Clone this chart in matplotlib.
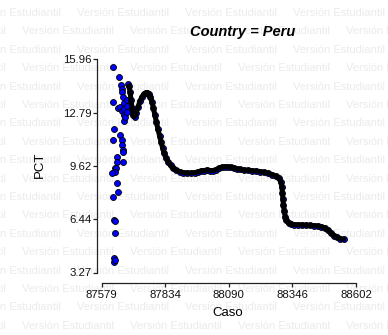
import matplotlib
matplotlib.use('Agg')
import matplotlib.pyplot as plt

plt.rcParams['font.family'] = ['Liberation Sans', 'DejaVu Sans']

# ---- data ----
scatter_caso = [87623, 87650, 87657, 87659, 87660, 87685, 87626, 87646, 87653, 87660,
                87666, 87667, 87668, 87669, 87670, 87673, 87680, 87681, 87682, 87627,
                87624, 87654, 87661, 87662, 87663, 87665, 87639, 87640, 87664, 87633,
                87638, 87634, 87622, 87642, 87643, 87625, 87628, 87631, 87632, 87629,
                87630, 87631]
scatter_pct = [15.48, 14.92, 14.43, 14.22, 14.03, 14.49, 13.44, 13.04, 13.14, 12.88,
               13.72, 13.36, 13.00, 12.64, 12.29, 12.53, 13.54, 13.18, 12.82, 11.79,
               11.16, 11.45, 11.16, 10.86, 10.56, 10.44, 10.16, 9.87, 9.87, 9.47,
               9.49, 9.25, 9.17, 8.58, 8.08, 7.78, 6.39, 6.34, 5.60, 4.13,
               3.89, 4.01]

curve_caso = [87689, 87693, 87697, 87701, 87705, 87711, 87717, 87725, 87733, 87741,
              87749, 87757, 87763, 87769, 87775, 87781, 87787, 87793, 87799, 87805,
              87812, 87818, 87824, 87830, 87838, 87846, 87856, 87866, 87878, 87892,
              87906, 87922, 87938, 87954, 87966, 87978, 87991, 88003, 88015, 88027,
              88039, 88051, 88063, 88075, 88087, 88099, 88111, 88123, 88135, 88151,
              88167, 88184, 88200, 88216, 88232, 88248, 88264, 88280, 88292, 88300,
              88304, 88306, 88308, 88310, 88314, 88317, 88322, 88331, 88341, 88353,
              88369, 88385, 88401, 88417, 88433, 88449, 88463, 88477, 88489, 88501,
              88513, 88525, 88538, 88552]
curve_pct = [14.37, 14.01, 13.54, 13.06, 12.64, 12.53, 12.76, 13.12, 13.48, 13.72,
             13.89, 13.98, 13.98, 13.89, 13.72, 13.42, 13.06, 12.64, 12.23, 11.81,
             11.39, 11.04, 10.68, 10.38, 10.09, 9.85, 9.64, 9.49, 9.37, 9.28,
             9.22, 9.19, 9.19, 9.22, 9.26, 9.31, 9.34, 9.37, 9.34, 9.34,
             9.40, 9.49, 9.53, 9.56, 9.56, 9.53, 9.49, 9.45, 9.41, 9.37,
             9.35, 9.33, 9.31, 9.28, 9.23, 9.19, 9.10, 9.01, 8.89, 8.66,
             8.36, 8.00, 7.64, 7.29, 6.93, 6.60, 6.37, 6.22, 6.14, 6.12,
             6.11, 6.10, 6.09, 6.07, 6.06, 6.04, 6.00, 5.92, 5.80, 5.62,
             5.47, 5.37, 5.29, 5.25]

xticks = [87579, 87834, 88090, 88346, 88602]
yticks = [3.27, 6.44, 9.62, 12.79, 15.96]
xtick_labels = ['87579', '87834', '88090', '88346', '88602']
ytick_labels = ['3.27', '6.44', '9.62', '12.79', '15.96']
title = 'Country = Peru'
xlabel = 'Caso'
ylabel = 'PCT'
watermark = 'Versión Estudiantil'

# ---- figure ----
W, H = 388, 335
fig = plt.figure(figsize=(W / 100, H / 100), dpi=100)

# watermark background
for k in range(19):
    yy = 13 + 18.4 * k
    start = 77 if k % 2 == 0 else 22
    xx = start - 108 * 2
    while xx < W:
        fig.text(xx / W, 1 - yy / H, watermark, fontsize=8.0, color='#ebebeb',
                 va='center', ha='left', zorder=-10)
        xx += 108

ax = fig.add_axes([101.7 / W, 1 - 272.5 / H, (356 - 101.7) / W, (272.5 - 59.3) / H])
ax.patch.set_visible(False)
ax.set_xlim(xticks[0], xticks[-1])
ax.set_ylim(yticks[0], yticks[-1])

for s in ['top', 'right']:
    ax.spines[s].set_visible(False)
ax.spines['left'].set_position(('outward', 3.2))
ax.spines['bottom'].set_position(('outward', 7.3))
for s in ['left', 'bottom']:
    ax.spines[s].set_color('#222222')
    ax.spines[s].set_linewidth(0.9)

ax.set_xticks(xticks)
ax.set_xticklabels(xtick_labels)
ax.set_yticks(yticks)
ax.set_yticklabels(ytick_labels)
ax.tick_params(direction='out', length=3.0, width=0.9, color='#222222',
               labelsize=8.2, labelcolor='#111111')
ax.tick_params(axis='x', pad=2)
ax.tick_params(axis='y', pad=1)

mk = dict(marker='o', linestyle='none', ms=4.3, mfc='#0000ff', mec='black',
          mew=0.6, clip_on=False)
ax.plot(scatter_caso, scatter_pct, **mk)
ax.plot(curve_caso, curve_pct, **mk)
ax.plot(curve_caso, curve_pct, '-', color='black', lw=3.6,
        solid_capstyle='round', solid_joinstyle='round', clip_on=False)

ax.set_xlabel(xlabel, fontsize=9.5)
ax.xaxis.set_label_coords((228 - 101.7) / 254.3, -(313 - 272.5) / 213.2)
ax.xaxis.label.set_va('center')
ax.set_ylabel(ylabel, fontsize=9.5)
ax.yaxis.set_label_coords((40 - 101.7) / 254.3, (272.5 - 165) / 213.2)
ax.yaxis.label.set_va('center')

fig.text(243 / W, 1 - 32 / H, title, fontsize=10.5, fontweight='bold',
         fontstyle='italic', ha='center', va='center')

fig.savefig('out.png', dpi=100)
